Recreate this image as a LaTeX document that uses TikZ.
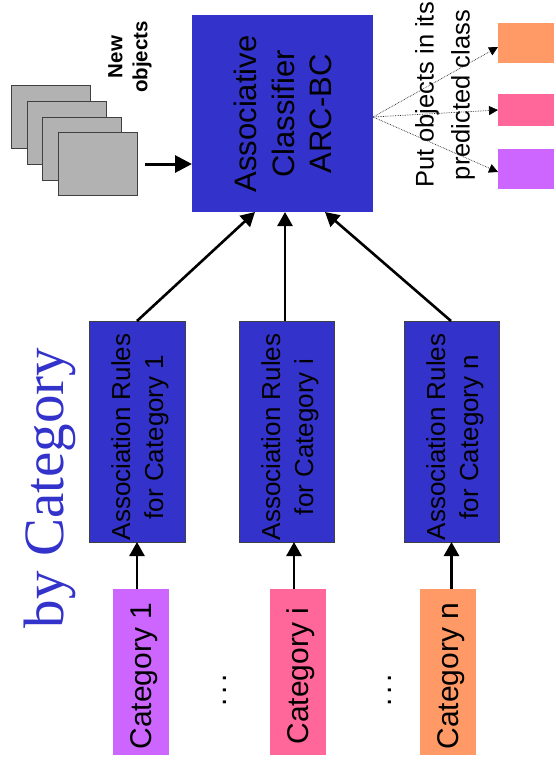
\documentclass[tikz,border=0pt]{standalone}
\usepackage{fontspec}
\setmainfont{Liberation Sans}
\newfontfamily\serifttl{Liberation Serif}
\usetikzlibrary{arrows.meta,calc}
\definecolor{blu}{HTML}{3333CC}
\definecolor{org}{HTML}{FF9966}
\definecolor{pnk}{HTML}{FF6699}
\definecolor{vio}{HTML}{CC66FF}
\definecolor{gry}{HTML}{B2B2B2}
\tikzset{
  x=1pt,y=-1pt,
  pbox/.style={rectangle,inner sep=0pt,outer sep=0pt,anchor=north west},
  bluebox/.style={pbox,fill=blu},
  rulebox/.style={pbox,fill=blu,draw=black!75,line width=0.8pt},
  sheet/.style={pbox,fill=gry,draw=black!75,line width=0.9pt,minimum width=79pt,minimum height=63pt},
  lab/.style={rotate=90,align=center,inner sep=0pt,text=black},
  rulelab/.style={lab,font=\fontsize{26}{33}\selectfont},
  catlab/.style={lab,font=\fontsize{30}{34}\selectfont},
  dotslab/.style={lab,font=\fontsize{30}{30}\selectfont},
  solidarrow/.style={line width=2.6pt,-{Triangle[length=14pt,width=15pt]}},
  dotarrow/.style={line width=0.7pt,densely dotted,black!85,-{Triangle[length=9pt,width=9pt,color=black]}},
}
\begin{document}
\begin{tikzpicture}
\useasboundingbox (0,0) rectangle (556,763);
% title
\node[rotate=90,blu,inner sep=0pt,font=\serifttl\fontsize{57}{57}\selectfont] (title) at (50,488) {by Category};
% stack
\node[sheet] (s1) at (11,85) {};
\node[sheet] (s2) at (27,101) {};
\node[sheet] (s3) at (42,117) {};
\node[sheet] (s4) at (58,132) {};
\node[lab,font=\bfseries\fontsize{20.5}{25}\selectfont] (newobj) at (130,57) {New\\objects};
% classifier
\node[bluebox,minimum width=181pt,minimum height=197pt] (clf) at (192,15) {};
\node[lab,font=\fontsize{31}{37.5}\selectfont] (clflab) at (283,114) {Associative\\Classifier\\ARC-BC};
% output boxes
\node[pbox,fill=org,minimum width=56pt,minimum height=40pt] (o1) at (498,23) {};
\node[pbox,fill=pnk,minimum width=56pt,minimum height=32pt] (o2) at (498,94) {};
\node[pbox,fill=vio,minimum width=56pt,minimum height=40pt] (o3) at (498,149) {};
\node[lab,font=\fontsize{25.5}{36}\selectfont] (put) at (445,95) {Put objects in its\\predicted class};
% rule boxes
\node[rulebox,minimum width=96pt,minimum height=221pt] (r1) at (89,321) {};
\node[rulebox,minimum width=95pt,minimum height=221pt] (r2) at (239,321) {};
\node[rulebox,minimum width=95pt,minimum height=221pt] (r3) at (404,321) {};
\node[rulelab] (r1lab) at (140,437) {Association Rules\\for Category 1};
\node[rulelab] (r2lab) at (290,437) {Association Rules\\for Category i};
\node[rulelab] (r3lab) at (455,437) {Association Rules\\for Category n};
% categories
\node[pbox,fill=vio,minimum width=56pt,minimum height=166pt] (c1) at (113,589) {};
\node[pbox,fill=pnk,minimum width=56pt,minimum height=166pt] (c2) at (270,589) {};
\node[pbox,fill=org,minimum width=56pt,minimum height=166pt] (c3) at (420,589) {};
\node[catlab] (c1lab) at (144,676) {Category 1};
\node[catlab] (c2lab) at (301,676) {Category i};
\node[catlab] (c3lab) at (451,676) {Category n};
\node[dotslab] (d1) at (225,690) {.\kern3.7pt.\kern3.7pt.};
\node[dotslab] (d2) at (390,690) {.\kern3.7pt.\kern3.7pt.};
% connector ends
\coordinate (a1s) at (137,589); \coordinate (a1e) at (137,542);
\coordinate (a2s) at (294,589); \coordinate (a2e) at (294,542);
\coordinate (a3s) at (451.5,589); \coordinate (a3e) at (451.5,542);
\coordinate (b1s) at (137,321); \coordinate (b1e) at (255,212);
\coordinate (b2s) at (285,321); \coordinate (b2e) at (285,212);
\coordinate (b3s) at (451,321); \coordinate (b3e) at (325,212);
\coordinate (inS) at (145,164); \coordinate (inE) at (192,164);
\coordinate (fan) at (373,117);
\coordinate (t1) at (498,47); \coordinate (t2) at (498,110); \coordinate (t3) at (498,172);
\draw[solidarrow] (a1s) -- (a1e);
\draw[solidarrow] (a2s) -- (a2e);
\draw[solidarrow] (a3s) -- (a3e);
\draw[solidarrow] (b1s) -- (b1e);
\draw[solidarrow] (b2s) -- (b2e);
\draw[solidarrow] (b3s) -- (b3e);
\draw[line width=3pt,-{Triangle[length=17pt,width=17pt]}] (inS) -- (inE);
\draw[dotarrow] (fan) -- (t1);
\draw[dotarrow] (fan) -- (t2);
\draw[dotarrow] (fan) -- (t3);
\end{tikzpicture}
\end{document}
